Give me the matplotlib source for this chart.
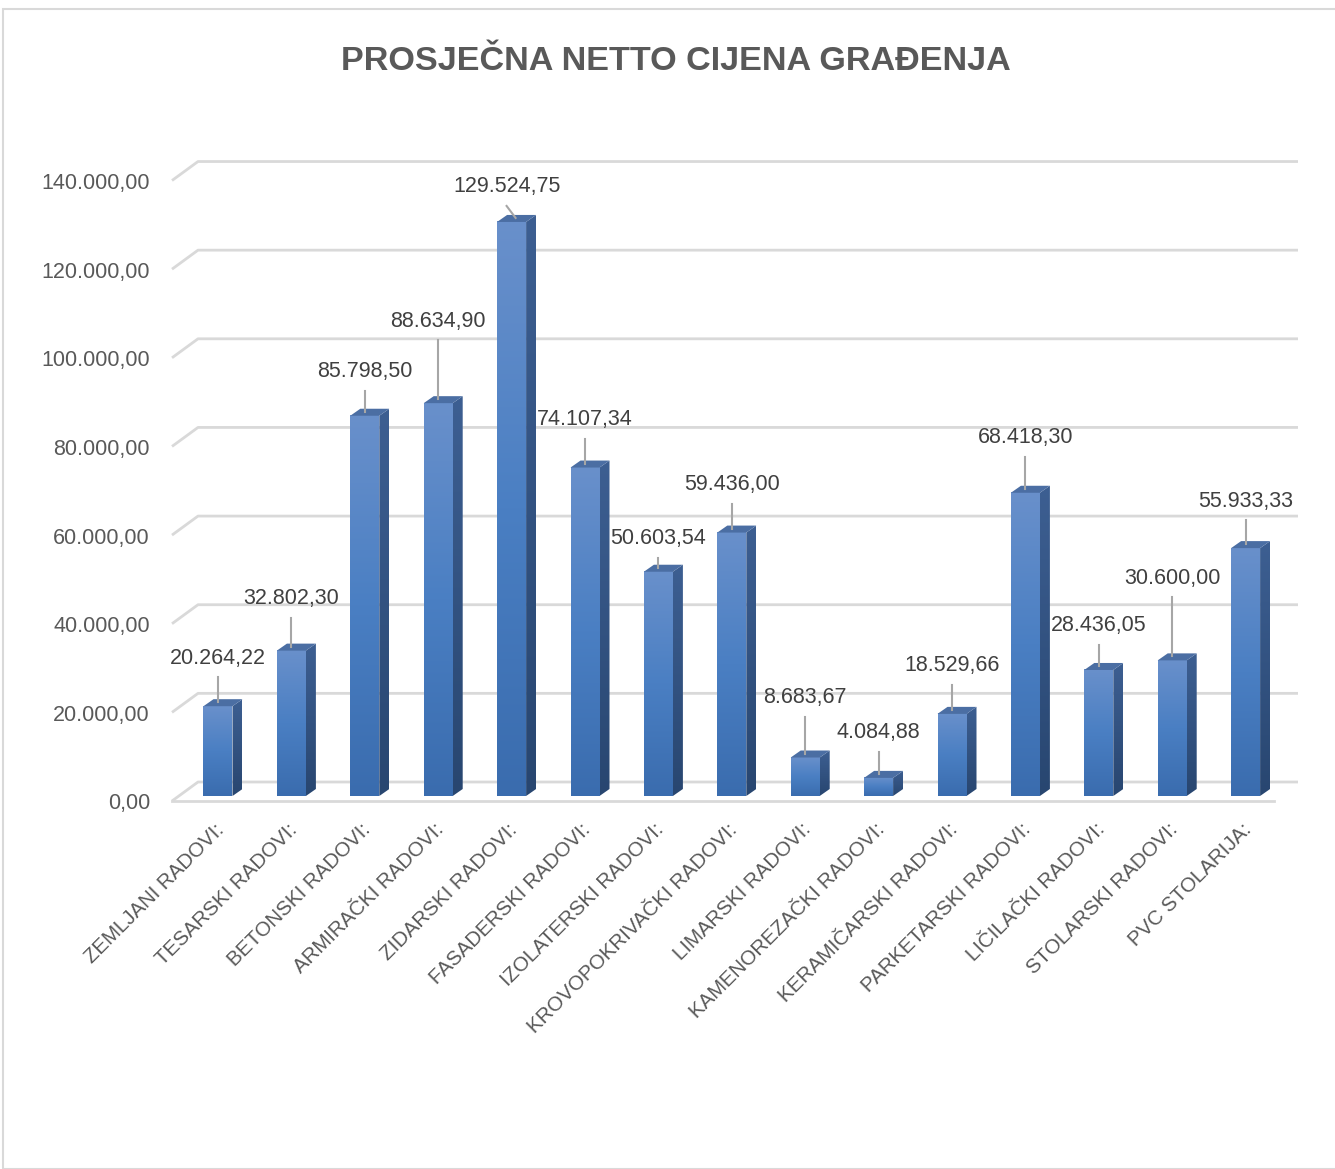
import numpy as np
import matplotlib.pyplot as plt
from matplotlib.colors import LinearSegmentedColormap
from matplotlib.patches import Polygon, Rectangle

categories = [
    "ZEMLJANI RADOVI:", "TESARSKI RADOVI:", "BETONSKI RADOVI:", "ARMIRAČKI RADOVI:",
    "ZIDARSKI RADOVI:", "FASADERSKI RADOVI:", "IZOLATERSKI RADOVI:",
    "KROVOPOKRIVAČKI RADOVI:", "LIMARSKI RADOVI:", "KAMENOREZAČKI RADOVI:",
    "KERAMIČARSKI RADOVI:", "PARKETARSKI RADOVI:", "LIČILAČKI RADOVI:",
    "STOLARSKI RADOVI:", "PVC STOLARIJA:",
]
values = [20264.22, 32802.30, 85798.50, 88634.90, 129524.75, 74107.34, 50603.54,
          59436.00, 8683.67, 4084.88, 18529.66, 68418.30, 28436.05, 30600.00, 55933.33]
y_ticks = [0, 20000, 40000, 60000, 80000, 100000, 120000, 140000]

# how far (px) each data label sits above its bar, and sideways shift
label_lift = [48, 52, 44, 82, 35, 48, 33, 48, 60, 45, 48, 55, 44, 82, 47]
label_shift = [0, 0, 0, 0, -5, 0, 0, 0, 0, 0, 0, 0, 0, 0, 0]

W, H = 1335, 1169
X0, Y0 = 218, 796          # pixel of first bar centre / value 0
PX, PY = 73.4, 0.004432    # px per category, px per unit


def fmt(v):
    return f"{v:,.2f}".replace(",", "X").replace(".", ",").replace("X", ".")


def dx(px):
    return px / PX


def dy(px):
    return px / PY


fig = plt.figure(figsize=(W / 100, H / 100), dpi=100)
ax = fig.add_axes([0, 0, 1, 1])
ax.axis("off")

font = "Liberation Sans"
txt_col = "#595959"
grid_col = "#d9d9d9"

# chart border
fig.patches.append(Rectangle((3 / W, 0), 2, 1 - 9 / H, transform=fig.transFigure,
                             fill=False, edgecolor="#d9d9d9", lw=1.5))

fig.text(676 / W, 1 - 61 / H, "PROSJEČNA NETTO CIJENA GRAĐENJA", ha="center", va="center",
         fontsize=24.6, fontweight="bold", color=txt_col, family=font)

# back wall gridlines + short diagonals to the front axis
x_front_l = dx(172 - X0)
x_back_l = dx(198 - X0)
x_back_r = dx(1298 - X0)
x_front_r = dx(1274 - X0)
for v in y_ticks:
    ax.plot([x_front_l, x_back_l, x_back_r], [v - dy(5), v + dy(14), v + dy(14)],
            color=grid_col, lw=2, zorder=1, solid_capstyle="butt")
    ax.text(dx(150 - X0), v - dy(8), fmt(v), ha="right", va="center",
            fontsize=15.5, color=txt_col, family=font)
ax.plot([x_front_l, x_front_r], [-dy(5), -dy(5)], color=grid_col, lw=2, zorder=1.5)

front_cmap = LinearSegmentedColormap.from_list("front", ["#3a6cae", "#4a7fc3", "#6990cb"])
side_cmap = LinearSegmentedColormap.from_list("side", ["#284670", "#3d5f92"])
grad = np.linspace(0, 1, 256).reshape(-1, 1)

half = dx(14.5)
ddx, ddy = dx(10), dy(7)
for i, v in enumerate(values):
    xl, xr = i - half, i + half
    ax.imshow(grad, extent=[xl, xr, 0, v], origin="lower", aspect="auto",
              cmap=front_cmap, zorder=3, interpolation="bilinear")
    side = Polygon([(xr, 0), (xr + ddx, ddy), (xr + ddx, v + ddy), (xr, v)], closed=True,
                   facecolor="none", edgecolor="none")
    ax.add_patch(side)
    im = ax.imshow(grad, extent=[xr, xr + ddx, 0, v + ddy], origin="lower", aspect="auto",
                   cmap=side_cmap, zorder=3, interpolation="bilinear")
    im.set_clip_path(side)
    ax.add_patch(Polygon([(xl, v), (xr, v), (xr + ddx, v + ddy), (xl + ddx, v + ddy)],
                         closed=True, facecolor="#4b6ea3", edgecolor="none", zorder=3))

    lx = i + dx(label_shift[i])
    ly = v + dy(label_lift[i])
    ax.text(lx, ly, fmt(v), ha="center", va="center", fontsize=15.5,
            color="#404040", family=font, zorder=6)
    top = ly - dy(19)
    end = v + dy(4)
    if top > end:
        ax.plot([lx, i + dx(4) * (label_shift[i] != 0)], [top, end],
                color="#a6a6a6", lw=1.5, zorder=5)

    ax.text(i + dx(-4), -dy(24), categories[i], rotation=45, rotation_mode="anchor",
            ha="right", va="top", fontsize=14.8, color=txt_col, family=font)

ax.set_xlim(-X0 / PX, (W - X0) / PX)
ax.set_ylim((Y0 - H) / PY, Y0 / PY)
fig.savefig("out.png", dpi=100)
